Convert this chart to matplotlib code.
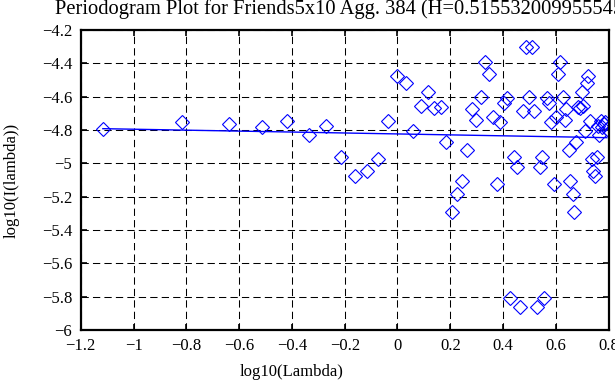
import numpy as np
import matplotlib.pyplot as plt

plt.rcParams['font.family'] = ['Liberation Serif', 'DejaVu Serif']
plt.rcParams['font.size'] = 12

title_text = "Periodogram Plot for Friends5x10 Agg. 384 (H=0.515532009955545)"

# log10 of frequency (k = 1..81)
log_lambda = [
    -1.116, -0.815, -0.638, -0.514, -0.417, -0.337, -0.271, -0.213, -0.161, -0.116,
    -0.074, -0.036, -0.002, 0.031, 0.060, 0.088, 0.115, 0.140, 0.163, 0.185,
    0.207, 0.227, 0.246, 0.265, 0.282, 0.299, 0.316, 0.332, 0.347, 0.362,
    0.376, 0.390, 0.403, 0.416, 0.428, 0.441, 0.453, 0.464, 0.475, 0.486,
    0.497, 0.508, 0.518, 0.528, 0.538, 0.547, 0.556, 0.566, 0.575, 0.583,
    0.592, 0.600, 0.609, 0.617, 0.625, 0.633, 0.640, 0.648, 0.655, 0.663,
    0.670, 0.677, 0.684, 0.691, 0.697, 0.704, 0.710, 0.717, 0.723, 0.729,
    0.736, 0.742, 0.748, 0.754, 0.759, 0.765, 0.771, 0.776, 0.782, 0.787,
    0.793,
]

# log10 of periodogram values
log_I = [
    -4.796, -4.752, -4.766, -4.780, -4.746, -4.828, -4.778, -4.964, -5.074, -5.044,
    -4.976, -4.748, -4.476, -4.516, -4.804, -4.654, -4.572, -4.670, -4.660, -4.870,
    -5.294, -5.182, -5.104, -4.920, -4.676, -4.740, -4.600, -4.392, -4.462, -4.720,
    -5.124, -4.752, -4.636, -4.606, -5.810, -4.964, -5.024, -5.860, -4.684, -4.304,
    -4.600, -4.304, -4.684, -5.860, -5.024, -4.964, -5.810, -4.606, -4.636, -4.752,
    -5.124, -4.720, -4.462, -4.392, -4.600, -4.740, -4.676, -4.920, -5.104, -5.182,
    -5.294, -4.870, -4.660, -4.670, -4.572, -4.654, -4.804, -4.516, -4.476, -4.748,
    -4.976, -5.044, -5.074, -4.964, -4.778, -4.828, -4.746, -4.780, -4.766, -4.752,
    -4.796,
]

# fitted line
fit_slope = -0.0283
fit_intercept = -4.8236

x = np.array(log_lambda)
y = np.array(log_I)

fig = plt.figure(figsize=(6.15, 3.85), dpi=100)
ax = fig.add_axes([80.7 / 615, 1 - 330 / 385, 528 / 615, 300 / 385])

ax.plot(x, y, linestyle='none', marker='D', markersize=7,
        markerfacecolor='none', markeredgecolor='blue', markeredgewidth=0.8)
ax.plot(x, np.polyval([fit_slope, fit_intercept], x), color='blue', linewidth=1)

ax.set_xlim(-1.2, 0.8)
ax.set_ylim(-6, -4.2)
ax.set_xticks(np.arange(-1.2, 0.81, 0.2))
ax.set_yticks(np.arange(-6, -4.19, 0.2))
ax.set_xticklabels(['\u22121.2', '\u22121', '\u22120.8', '\u22120.6', '\u22120.4',
                    '\u22120.2', '0', '0.2', '0.4', '0.6', '0.8'])
ax.set_yticklabels(['\u22126', '\u22125.8', '\u22125.6', '\u22125.4', '\u22125.2',
                    '\u22125', '\u22124.8', '\u22124.6', '\u22124.4', '\u22124.2'])

ax.grid(True, color='black', linestyle=(0, (7, 4)), linewidth=0.75)
ax.tick_params(direction='in', length=4, width=1.2, top=True, right=True)
ax.tick_params(axis='x', pad=6)
ax.tick_params(axis='y', pad=6)
for s in ax.spines.values():
    s.set_linewidth(1.6)

ax.set_xlabel('log10(Lambda)')
ax.xaxis.set_label_coords(0.40, -0.115, transform=ax.transAxes)
ax.set_ylabel('log10(I(lambda))')
ax.yaxis.set_label_coords(-0.115, 0.5)

# title runs past the right edge, as in the original
fig.text(55 / 615, 1 - 14 / 385, title_text, ha='left', va='baseline', fontsize=14.8)

fig.savefig('out.png', dpi=100)
